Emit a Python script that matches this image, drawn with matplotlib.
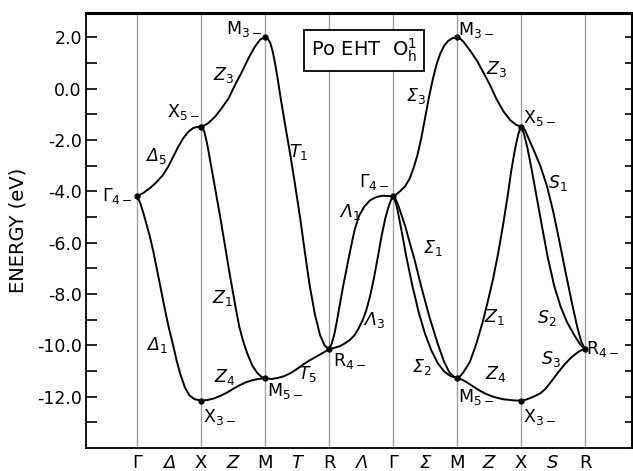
import matplotlib
matplotlib.use("Agg")
import matplotlib.pyplot as plt

plt.rcParams['axes.unicode_minus'] = False
plt.rcParams['mathtext.fontset'] = 'dejavusans'

# path through the zone
kpt_pos = [0, 1, 2, 3, 4, 5, 6, 7]
kpt_names = ['Γ', 'X', 'M', 'R', 'Γ', 'M', 'X', 'R']
mid_names = ['Δ', 'Z', 'T', 'Λ', 'Σ', 'Z', 'S']

yticks_major = [2, 0, -2, -4, -6, -8, -10, -12]
yticks_minor = [1, -1, -3, -5, -7, -9, -11, -13]

# bands, (k, energy eV)
delta5 = [(0.0, -4.2), (0.05, -4.13), (0.10, -4.06), (0.20, -3.88), (0.30, -3.65),
          (0.40, -3.38), (0.48, -3.07), (0.56, -2.68), (0.64, -2.28), (0.72, -1.94),
          (0.80, -1.68), (0.88, -1.53), (0.94, -1.49), (1.0, -1.48)]
delta1 = [(0.0, -4.2), (0.05, -4.45), (0.10, -4.85), (0.15, -5.3), (0.20, -5.75),
          (0.26, -6.4), (0.32, -7.15), (0.38, -7.9), (0.44, -8.65), (0.50, -9.35),
          (0.56, -9.95), (0.62, -10.6), (0.68, -11.15), (0.75, -11.65), (0.82, -11.95),
          (0.90, -12.1), (1.0, -12.15)]
z3_a = [(1.0, -1.48), (1.05, -1.43), (1.11, -1.35), (1.22, -1.09), (1.32, -0.77),
        (1.43, -0.38), (1.53, 0.14), (1.64, 0.66), (1.74, 1.18), (1.84, 1.63),
        (1.92, 1.9), (1.96, 1.97), (2.0, 2.0)]
z1_a = [(1.0, -1.48), (1.03, -1.55), (1.06, -1.75), (1.10, -2.2), (1.15, -2.9),
        (1.20, -3.6), (1.25, -4.3), (1.30, -5.0), (1.35, -5.75), (1.40, -6.5),
        (1.45, -7.25), (1.50, -7.95), (1.55, -8.65), (1.60, -9.3), (1.66, -9.85),
        (1.72, -10.3), (1.80, -10.78), (1.88, -11.08), (1.95, -11.24), (2.0, -11.28)]
z4_a = [(1.0, -12.15), (1.1, -12.13), (1.2, -12.07), (1.3, -11.97), (1.4, -11.85),
        (1.5, -11.7), (1.6, -11.56), (1.7, -11.44), (1.8, -11.36), (1.9, -11.31),
        (2.0, -11.28)]
t1 = [(2.0, 2.0), (2.04, 1.95), (2.08, 1.8), (2.12, 1.45), (2.16, 0.95), (2.20, 0.35),
      (2.25, -0.45), (2.31, -1.35), (2.39, -2.5), (2.47, -3.75), (2.55, -5.05),
      (2.63, -6.5), (2.70, -7.7), (2.78, -8.8), (2.86, -9.6), (2.93, -10.0), (3.0, -10.15)]
t5 = [(2.0, -11.28), (2.1, -11.31), (2.2, -11.27), (2.3, -11.2), (2.4, -11.08),
      (2.5, -10.92), (2.6, -10.74), (2.7, -10.58), (2.8, -10.44), (2.9, -10.3), (3.0, -10.15)]
lambda1 = [(3.0, -10.15), (3.04, -9.95), (3.08, -9.6), (3.12, -9.1), (3.17, -8.4),
           (3.22, -7.7), (3.28, -6.95), (3.34, -6.2), (3.40, -5.5), (3.47, -4.95),
           (3.55, -4.6), (3.64, -4.35), (3.74, -4.22), (3.84, -4.17), (3.92, -4.18), (4.0, -4.2)]
lambda3 = [(3.0, -10.15), (3.08, -10.1), (3.17, -10.03), (3.25, -9.92), (3.33, -9.78),
           (3.40, -9.6), (3.46, -9.35), (3.52, -9.05), (3.58, -8.65), (3.64, -8.1),
           (3.70, -7.4), (3.76, -6.6), (3.82, -5.75), (3.88, -5.05), (3.93, -4.6),
           (3.97, -4.33), (4.0, -4.2)]
sigma3 = [(4.0, -4.2), (4.06, -4.1), (4.12, -3.97), (4.19, -3.8), (4.26, -3.5),
          (4.32, -3.1), (4.38, -2.6), (4.44, -1.95), (4.50, -1.15), (4.56, -0.35),
          (4.62, 0.35), (4.68, 0.95), (4.74, 1.38), (4.80, 1.68), (4.86, 1.86),
          (4.93, 1.97), (5.0, 2.0)]
sigma1 = [(4.0, -4.2), (4.04, -4.3), (4.08, -4.53), (4.13, -4.9), (4.19, -5.35),
          (4.25, -5.9), (4.33, -6.6), (4.44, -7.7), (4.57, -8.9), (4.70, -9.95),
          (4.80, -10.65), (4.88, -11.05), (4.95, -11.22), (5.0, -11.28)]
sigma2 = [(4.0, -4.2), (4.03, -4.35), (4.06, -4.6), (4.10, -5.1), (4.15, -5.75),
          (4.20, -6.45), (4.30, -7.65), (4.40, -8.7), (4.50, -9.55), (4.60, -10.2),
          (4.70, -10.7), (4.80, -11.02), (4.90, -11.2), (5.0, -11.28)]
z3_b = [(5.0, 2.0), (5.05, 1.95), (5.10, 1.83), (5.20, 1.50), (5.31, 1.1), (5.41, 0.64),
        (5.52, 0.12), (5.62, -0.42), (5.73, -0.9), (5.83, -1.22), (5.92, -1.4), (6.0, -1.48)]
z1_b = [(5.0, -11.28), (5.05, -11.2), (5.10, -11.05), (5.20, -10.65), (5.30, -9.95),
        (5.40, -9.1), (5.48, -8.3), (5.56, -7.45), (5.64, -6.45), (5.72, -5.3),
        (5.79, -4.2), (5.85, -3.15), (5.91, -2.3), (5.96, -1.75), (6.0, -1.48)]
z4_b = [(5.0, -11.28), (5.07, -11.33), (5.14, -11.42), (5.22, -11.55), (5.30, -11.68),
        (5.38, -11.8), (5.46, -11.9), (5.54, -11.98), (5.62, -12.04), (5.72, -12.1),
        (5.83, -12.13), (5.92, -12.15), (6.0, -12.15)]
s1 = [(6.0, -1.48), (6.06, -1.6), (6.12, -1.95), (6.20, -2.4), (6.30, -3.0), (6.40, -3.75),
      (6.50, -4.75), (6.60, -5.95), (6.70, -7.2), (6.80, -8.4), (6.88, -9.3),
      (6.94, -9.85), (7.0, -10.15)]
s2 = [(6.0, -1.48), (6.04, -1.7), (6.10, -2.3), (6.17, -3.2), (6.25, -4.3), (6.33, -5.4),
      (6.42, -6.6), (6.52, -7.7), (6.62, -8.5), (6.72, -9.1), (6.82, -9.55),
      (6.92, -9.95), (7.0, -10.15)]
s3 = [(6.0, -12.15), (6.07, -12.12), (6.14, -12.06), (6.22, -11.97), (6.30, -11.87),
      (6.38, -11.7), (6.45, -11.48), (6.53, -11.22), (6.61, -10.96), (6.69, -10.72),
      (6.77, -10.51), (6.84, -10.36), (6.90, -10.25), (6.95, -10.18), (7.0, -10.15)]

bands = [delta5, delta1, z3_a, z1_a, z4_a, t1, t5, lambda1, lambda3,
         sigma3, sigma1, sigma2, z3_b, z1_b, z4_b, s1, s2, s3]

# symmetry states (k, energy)
nodes = [(0, -4.2), (1, -1.48), (1, -12.15), (2, 2.0), (2, -11.28), (3, -10.15),
         (4, -4.2), (5, 2.0), (5, -11.28), (6, -1.48), (6, -12.15), (7, -10.15)]

fig = plt.figure(figsize=(6.33, 4.71), dpi=100)
ax = fig.add_axes([86/633, 1 - 448/471, 546/633, 435/471])

for k in kpt_pos:
    ax.axvline(k, color='#a0a0a0', lw=1.0, zorder=0)

for b in bands:
    ax.plot([p[0] for p in b], [p[1] for p in b], color='black', lw=1.4)

ax.plot([n[0] for n in nodes], [n[1] for n in nodes], 'o', color='black', ms=3.5)

ax.set_xlim(-0.797, 7.734)
ax.set_ylim(-14.0, 2.95)

# x labels: symmetry points plus the lines between them
xt = []
xl = []
for i, k in enumerate(kpt_pos):
    xt.append(k)
    xl.append(kpt_names[i])
    if i < len(mid_names):
        xt.append(k + 0.5)
        xl.append(mid_names[i])
ax.set_xticks(xt)
ax.set_xticklabels(xl, fontsize=13)
for i, lab in enumerate(ax.get_xticklabels()):
    if i % 2 == 1:
        lab.set_fontstyle('italic')
ax.tick_params(axis='x', length=0, pad=4)

ax.set_yticks(yticks_major)
ax.set_yticklabels(['%.1f' % v for v in yticks_major], fontsize=12.5)
ax.set_yticks(yticks_minor, minor=True)
ax.tick_params(axis='y', which='both', direction='in', length=8, width=1.2, pad=3)

sec = ax.secondary_yaxis('right')
sec.set_yticks(yticks_major + yticks_minor)
sec.tick_params(direction='in', length=5, width=1.2, labelright=False)
sec.spines['right'].set_linewidth(1.3)

ax.set_ylabel('ENERGY (eV)', fontsize=14)
ax.yaxis.set_label_coords(-0.108, 0.5)

for s in ['left', 'bottom', 'right']:
    ax.spines[s].set_linewidth(1.3)
ax.spines['top'].set_linewidth(2.2)

# state labels
fs = 12.5
ax.text(-0.06, -4.2, r'$\Gamma_{4-}$', fontsize=fs, ha='right', va='center')
ax.text(0.98, -0.91, r'$\mathrm{X}_{5-}$', fontsize=fs, ha='right', va='center')
ax.text(1.95, 2.32, r'$\mathrm{M}_{3-}$', fontsize=fs, ha='right', va='center')
ax.text(1.03, -12.79, r'$\mathrm{X}_{3-}$', fontsize=fs, ha='left', va='center')
ax.text(2.03, -11.77, r'$\mathrm{M}_{5-}$', fontsize=fs, ha='left', va='center')
ax.text(3.06, -10.62, r'$\mathrm{R}_{4-}$', fontsize=fs, ha='left', va='center')
ax.text(3.95, -3.65, r'$\Gamma_{4-}$', fontsize=fs, ha='right', va='center')
ax.text(5.02, 2.28, r'$\mathrm{M}_{3-}$', fontsize=fs, ha='left', va='center')
ax.text(6.03, -1.15, r'$\mathrm{X}_{5-}$', fontsize=fs, ha='left', va='center')
ax.text(5.02, -12.0, r'$\mathrm{M}_{5-}$', fontsize=fs, ha='left', va='center')
ax.text(6.03, -12.79, r'$\mathrm{X}_{3-}$', fontsize=fs, ha='left', va='center')
ax.text(7.02, -10.15, r'$\mathrm{R}_{4-}$', fontsize=fs, ha='left', va='center')

# band labels (italic letter, upright subscript)
band_tags = [(0.30, -2.63, 'Δ', '5'), (0.31, -9.98, 'Δ', '1'),
             (1.36, 0.53, 'Z', '3'), (1.34, -8.15, 'Z', '1'), (1.375, -11.23, 'Z', '4'),
             (2.52, -2.47, 'T', '1'), (2.67, -11.13, 'T', '5'),
             (3.33, -4.8, 'Λ', '1'), (3.70, -9.0, 'Λ', '3'),
             (4.36, -0.29, 'Σ', '3'), (4.63, -6.2, 'Σ', '1'), (4.45, -10.84, 'Σ', '2'),
             (5.62, 0.76, 'Z', '3'), (5.59, -8.9, 'Z', '1'), (5.61, -11.13, 'Z', '4'),
             (6.57, -3.68, 'S', '1'), (6.41, -8.94, 'S', '2'), (6.47, -10.53, 'S', '3')]
for x, y, letter, sub in band_tags:
    ax.text(x, y, letter + '$_{' + sub + '}$', fontsize=fs, fontstyle='italic',
            ha='center', va='center')

ax.text(3.55, 1.5, r'Po EHT  O$_\mathrm{h}^\mathrm{1}$', fontsize=14, ha='center', va='center',
        bbox=dict(boxstyle='square,pad=0.35', fc='white', ec='black', lw=1.3))

fig.savefig('out.png', dpi=100)
